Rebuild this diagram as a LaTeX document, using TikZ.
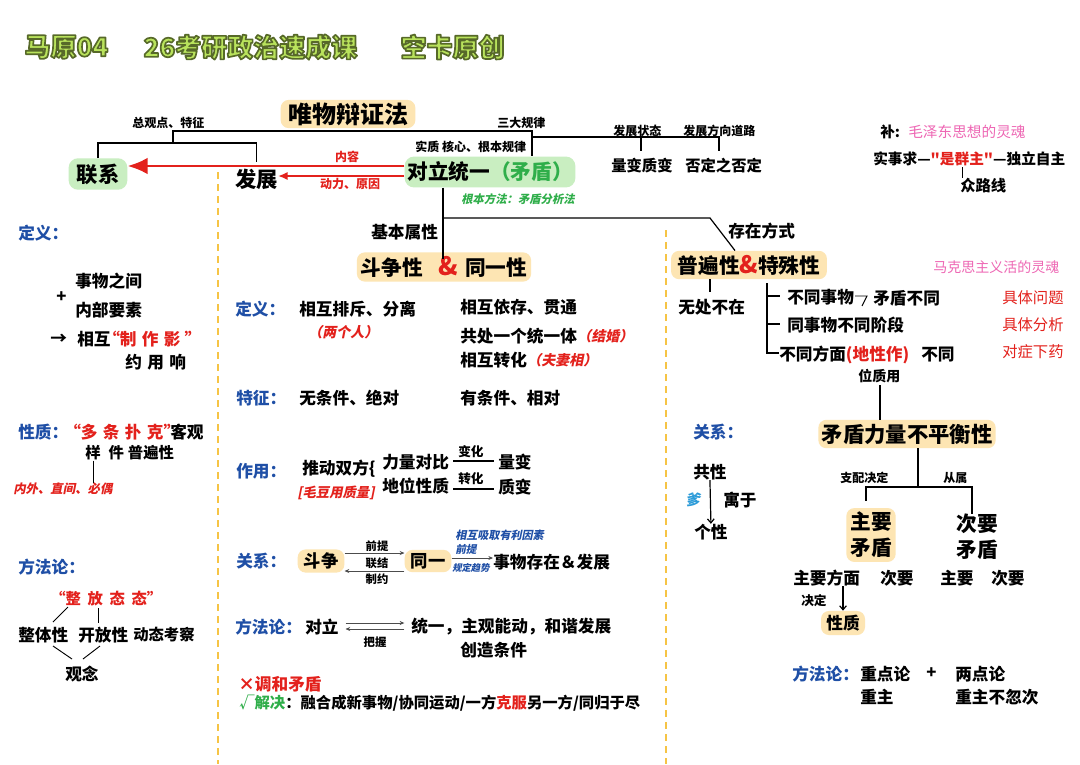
\documentclass[tikz,border=0pt]{standalone}
\usepackage{fontspec}
\setmainfont{Noto Sans CJK SC}
\newfontfamily\itf{Noto Sans CJK SC}[FakeSlant=0.2]
\newfontfamily\nq{Noto Sans CJK SC}[Ligatures=TeXOff]
\usetikzlibrary{arrows.meta}
\definecolor{boxorange}{HTML}{FDE5B3}
\definecolor{boxgreen}{HTML}{C9EEC1}
\definecolor{myred}{HTML}{E3211C}
\definecolor{myblue}{HTML}{1F4FA6}
\definecolor{mygreen}{HTML}{2FAE4A}
\definecolor{mypink}{HTML}{EE67B4}
\definecolor{dashyel}{HTML}{F6C445}
\definecolor{ttlfill}{HTML}{B9E35C}
\definecolor{cyanb}{HTML}{2C9BD8}
\newcommand\fs[1]{\fontsize{#1}{#1}\selectfont\bfseries}
\newcommand\fr[1]{\fontsize{#1}{#1}\selectfont}
\newcommand\outl[1]{\special{pdf:literal direct 2 Tr 1.25 w 1 j 0.34 0.41 0.16 RG}#1\special{pdf:literal direct 0 Tr}}
\newcommand\sq{{\nq\bfseries"}}
\begin{document}
\begin{tikzpicture}[x=0.75pt,y=-0.75pt,
 base/.style={inner sep=0pt,anchor=west,font=\fs{12.5}},
 sm/.style={base,font=\fs{9}},
 bl/.style={base,text=myblue},
 obox/.style={fill=boxorange,rounded corners=6pt,inner xsep=4pt,inner ysep=2pt,anchor=center},
 gbox/.style={fill=boxgreen,rounded corners=7pt,inner xsep=6pt,inner ysep=4pt,anchor=center},
 ln/.style={draw=black,line width=0.9pt},
 tln/.style={draw=black!70,line width=0.5pt},
 dsh/.style={draw=dashyel,line width=1.6pt,dash pattern=on 5pt off 4pt},
 ttl/.style={inner sep=1pt,anchor=west,font=\fs{19.5},text=ttlfill},
 ar/.style={-{Straight Barb[length=3pt,width=5pt]}},
 sar/.style={-{Stealth[length=3.5pt,width=3pt]}}
]
\fill[white] (0,0) rectangle (1080,764);
\useasboundingbox (0,0) rectangle (1080,764);

% ---------- title ----------
\node[ttl] (tA) at (23,47) {\outl{马原04}};
\node[ttl] (tB) at (142,47) {\outl{26考研政治速成课}};
\node[ttl] (tC) at (399,47) {\outl{空卡原创}};

% ---------- top tree ----------
\coordinate (jA) at (173,143);
\coordinate (jB) at (532,131);
\node[gbox,font=\fs{16}] (lx) at (98,174) {联系};
\node[base,font=\fs{16}] (fz) at (235,179) {发展};
\node[gbox,font=\fs{15.5},inner xsep=2pt,inner ysep=4pt] (dl) at (490,172) {对立统一\textcolor{mygreen}{（矛盾）}};
\draw[ln] (lx.north) -- (lx.north |- jA) -- (fz.north |- jA) -- (fz.north |- 0,162);
\draw[ln] (jA) -- (jA |- jB) -- (jB) -- (jB |- dl.north);
\draw[ln] (jB |- 0,137) -- (719,137) -- (719,151);
\draw[ln] (641,137) -- (641,151);
\node[obox,font=\fs{18},inner xsep=5.5pt,inner ysep=2pt] (wb) at (348,114) {唯物辩证法};
\node[sm] (zg) at (132,123) {总观点、特征};
\node[sm] (sd) at (497,123) {三大规律};
\node[sm] (sz) at (415,147) {实质 核心、根本规律};
\node[sm] (fs1) at (613,131) {发展状态};
\node[sm] (fs2) at (683,131) {发展方向道路};
\node[base,font=\fs{11.5}] (lz) at (611,166) {量变质变};
\node[base,font=\fs{11.5}] (fd) at (685,166) {否定之否定};
\node[base,font=\itf\fs{8.5},text=mygreen,anchor=center] (gf) at (518,199) {根本方法：矛盾分析法};

\draw[myred,line width=2.2pt,-{Latex[length=15pt,width=12.5pt]}] (dl.west |- 0,166) -- (lx.east |- 0,166);
\draw[myred,line width=1pt,-{Latex[length=7pt,width=6pt]}] (dl.west |- 0,176) -- (fz.east |- 0,176);
\node[sm,text=myred,anchor=center] (nr) at (347,157) {内容};
\node[sm,text=myred,anchor=center] (dy) at (350,184) {动力、原因};

% ---------- dashed separators ----------
\draw[dsh] (218,172) -- (218,764);
\draw[dsh] (666,230) -- (666,764);

% ---------- middle column ----------
\node[base] (jb) at (371,232) {基本属性};
\node[obox,font=\fs{15.5},inner xsep=3pt,inner ysep=3pt] (ds) at (444,267) {斗争性\hspace{12pt}{\color{myred}\fs{19}\&}\hspace{5pt}同一性};
\node[base] (cz) at (728,231) {存在方式};
\node[obox,font=\fs{15.5},inner xsep=5pt,inner ysep=3pt] (pb) at (749,265) {普遍性{\color{myred}\fs{18}\&}特殊性};
\draw[ln] (dl.south -| 443,0) -- (443,259);
\draw[ln] (443,218) -- (710,218) -- (pb.north -| 735,0);

\node[bl] (m1) at (235,309) {定义：};
\node[base] (m2) at (299,309) {相互排斥、分离};
\node[base,font=\itf\fs{10.5},text=myred] (m3) at (308,332) {（两个人）};
\node[base] (m4) at (460,307) {相互依存、贯通};
\node[base] (m5) at (460,336) {共处一个统一体};
\node[base,font=\itf\fs{10.5},text=myred] (m6) at (577,336) {（结婚）};
\node[base] (m7) at (460,360) {相互转化};
\node[base,font=\itf\fs{10.5},text=myred] (m8) at (527,360) {（夫妻相）};
\node[bl] (m9) at (236,398) {特征：};
\node[base] (m10) at (299,398) {无条件、绝对};
\node[base] (m11) at (460,398) {有条件、相对};

\node[bl] (m12) at (236,471) {作用：};
\node[base] (m13) at (302,469) {推动双方\{};
\node[base,font=\itf\fs{10},text=myred] (m14) at (297,493) {[毛豆用质量]};
\node[base] (m15) at (382,462) {力量对比};
\node[base,font=\fs{9.5}] (m16) at (458,452) {变化};
\node[base] (m17) at (498,462) {量变};
\node[base] (m18) at (382,486) {地位性质};
\node[base,font=\fs{9.5}] (m19) at (458,479) {转化};
\node[base] (m20) at (498,487) {质变};
\draw[ln] (453,461) -- (494,461);
\draw[ln] (453,489) -- (494,489);

\node[bl] (m21) at (236,561) {关系：};
\node[obox,font=\fs{13},inner xsep=4.5pt,inner ysep=2.5pt] (dz) at (321,561) {斗争};
\node[obox,font=\fs{13},inner xsep=4.5pt,inner ysep=2.5pt] (ty) at (428,561) {同一};
\node[sm,font=\fs{8.5},anchor=center] (m22) at (377,546) {前提};
\node[sm,font=\fs{8.5},anchor=center] (m23) at (377,563) {联结};
\node[sm,font=\fs{8.5},anchor=center] (m24) at (377,579) {制约};
\draw[tln,sar] (dz.east |- 0,553) -- (ty.west |- 0,553);
\draw[tln,sar] (ty.west |- 0,571) -- (dz.east |- 0,571);
\node[base,font=\itf\fs{8.3},text=myblue] (m25) at (455,535) {相互吸取有利因素};
\node[base,font=\itf\fs{8},text=myblue] (m26) at (455,549) {前提};
\node[base,font=\itf\fs{7},text=myblue] (m27) at (452,568) {规定趋势};
\node[base] (m28) at (493,562) {事物存在＆发展};
\draw[tln,sar] (ty.east |- 0,558) -- (m28.west |- 0,558);

\node[bl] (m29) at (235,627) {方法论：};
\node[base] (m30) at (305,627) {对立};
\node[base] (m31) at (411,627) {统一，主观能动，和谐发展};
\draw[tln,sar] ([shift={(5pt,3pt)}]m30.east) -- ([shift={(-5pt,3pt)}]m31.west);
\draw[tln,sar] ([shift={(-5pt,-1.5pt)}]m31.west) -- ([shift={(5pt,-1.5pt)}]m30.east);
\node[sm,font=\fs{8.5},anchor=center] (m32) at (375,642) {把握};
\node[base] (m33) at (460,650) {创造条件};
\node[base,text=myred] (m34) at (238,684) {×调和矛盾};
\node[base,font=\fs{11.5}] (m35) at (239,703) {\textcolor{mygreen}{√解决}：融合成新事物/协同运动/一方\textcolor{myred}{克服}另一方/同归于尽};

% ---------- right column ----------
\node[base,font=\fr{10.5},text=mypink] (r1) at (933,267) {马克思主义活的灵魂};
\draw[ln] (pb.south -| 710,0) -- (710,292);
\node[base] (r2) at (678,307) {无处不在};
\draw[ln] (767,283) -- (767,353) -- (779,353);
\draw[ln] (767,296) -- (780,296);
\draw[ln] (767,324) -- (780,324);
\node[base] (r3) at (787,297) {不同事物};
\draw[ln,line width=0.7pt] (855,296) -- (867,296) -- (862,306);
\node[base] (r4) at (873,298) {矛盾不同};
\node[base] (r5) at (787,325) {同事物不同阶段};
\node[base] (r6) at (779,355) {不同方面\textcolor{myred}{(地性作)}};
\node[base] (r7) at (921,355) {不同};
\node[base,font=\fs{10.5}] (r8) at (858,376) {位质用};
\node[base,font=\fr{11.5},text=myred] (r9) at (1002,298) {具体问题};
\node[base,font=\fr{11.5},text=myred] (r10) at (1002,325) {具体分析};
\node[base,font=\fr{11.5},text=myred] (r11) at (1002,352) {对症下药};
\node[obox,font=\fs{16},inner xsep=2.5pt,inner ysep=3pt] (bph) at (907,434) {矛盾力量不平衡性};
\draw[ln] (880,385) -- (bph.north -| 880,0);

\node[bl] (r12) at (693,432) {关系：};
\node[base] (r13) at (693,472) {共性};
\node[base] (r14) at (694,532) {个性};
\draw[ln,ar] (r13.south) -- (r14.north);
\node[base,font=\itf\fs{11},text=cyanb] (r15) at (685,500) {爹};
\node[base] (r16) at (723,500) {寓于};

\node[obox,font=\fs{15.5},align=center,inner xsep=3pt,inner ysep=3pt] (zymd) at (871,535) {主要\\[4pt]矛盾};
\node[inner sep=0pt,font=\fs{15.5},align=center] (cymd) at (977,537) {次要\\[4pt]矛盾};
\draw[ln] (bph.south -| 918,0) -- (918,487);
\draw[ln] (zymd.north -| 866,0) ++(0,-7) -- (866,487) -- (972,487) -- (972,514);
\node[sm] (r17) at (840,478) {支配决定};
\node[sm] (r18) at (943,478) {从属};
\node[base] (r19) at (793,578) {主要方面};
\node[base] (r20) at (880,578) {次要};
\node[base] (r21) at (940,578) {主要};
\node[base] (r22) at (991,578) {次要};
\node[sm,font=\fs{9.5}] (r23) at (801,601) {决定};
\node[obox,font=\fs{12.5},inner xsep=4pt,inner ysep=3pt] (xz) at (843,623) {性质};
\draw[ln,ar] (xz.north |- r19.south) -- (xz.north);

\node[bl] (r24) at (792,674) {方法论：};
\node[base] (r25) at (860,674) {重点论};
\node[base] (r26) at (926,673) {+};
\node[base] (r27) at (955,674) {两点论};
\node[base] (r28) at (860,697) {重主};
\node[base] (r29) at (955,697) {重主不忽次};

\node[base,font=\fs{11}] (r30) at (880,132) {补:};
\node[base,font=\fr{11},text=mypink] (r31) at (908,132) {毛泽东思想的灵魂};
\node[base,font=\fs{11}] (r32) at (873,159) {实事求—\textcolor{myred}{\sq 是群主\sq}—独立自主};
\node[base,font=\fs{11.5}] (r33) at (960,186) {众路线};
\draw[ln,line width=0.7pt] (962,167) -- (r33.north -| 962,0);

% ---------- left column ----------
\node[bl] (l1) at (18,233) {定义：};
\node[base] (l2) at (75,281) {事物之间};
\node[base] (l3) at (56,297) {+};
\node[base] (l4) at (75,310) {内部要素};
\node[base] (l5) at (50,339) {→};
\node[base] (l6) at (77,339) {相互};
\node[base,text=myred] (l7) at (103,339) {“制\hspace{4pt}作\hspace{4pt}影\hspace{3pt}”};
\node[base] (l8) at (125,362) {约\hspace{4pt}用\hspace{4pt}响};
\node[bl] (l9) at (18,432) {性质：};
\node[base,text=myred] (l10) at (64,432) {“多\hspace{4pt}条\hspace{4pt}扑\hspace{4pt}克”\kern-6pt};
\node[base] (l11) at (170,432) {客观};
\node[base,font=\fs{11.5}] (l12) at (85,453) {样\hspace{6pt}件\hspace{3pt}普遍性};
\node[base,font=\itf\fs{9.3},text=myred] (l13) at (13,489) {内外、直间、必偶};
\draw[ln,line width=0.7pt] (l12.south -| 93,0) -- (l13.north -| 93,0);
\node[bl] (l14) at (18,567) {方法论：};
\node[base,font=\fs{11.5},text=myred] (l15) at (50,599) {“整\hspace{5pt}放\hspace{5pt}态\hspace{5pt}态”};
\node[base] (l16) at (18,635) {整体性};
\node[base] (l17) at (78,635) {开放性};
\node[base,font=\fs{11.5}] (l18) at (133,635) {动态考察};
\node[base] (l19) at (65,674) {观念};
\draw[ln,line width=0.7pt] (68,607) -- (53,622);
\draw[ln,line width=0.7pt] (98,608) -- (98,623);
\draw[ln,line width=0.7pt] (53,646) -- (72,659);
\draw[ln,line width=0.7pt] (100,646) -- (83,659);
\end{tikzpicture}
\end{document}
